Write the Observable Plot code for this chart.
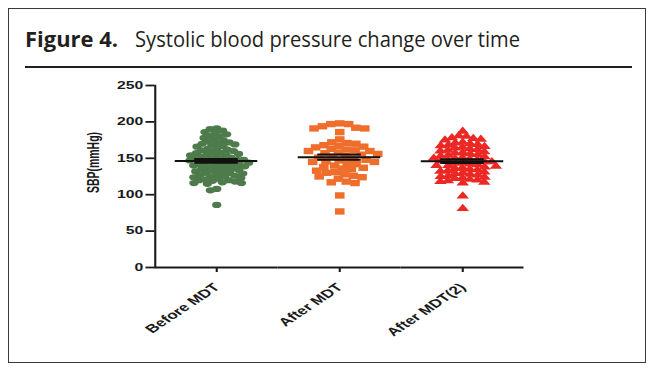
<!DOCTYPE html>
<html>
<head>
<meta charset="utf-8">
<script src="https://cdn.jsdelivr.net/npm/d3@7"></script>
<script src="https://cdn.jsdelivr.net/npm/@observablehq/plot@0.6"></script>
<style>
  html, body { margin: 0; padding: 0; background: #fff; }
  body { width: 657px; height: 369px; position: relative; overflow: hidden; }
  #box { position: absolute; left: 8px; top: 8px; width: 638px; height: 355px; box-sizing: border-box; border: 1.5px solid #3a3a3a; }
  #title { position: absolute; left: 25px; top: 25px; font-family: "Open Sans", "Noto Sans", sans-serif; font-size: 22px; line-height: 26px; color: #231f20; white-space: nowrap; }
  #title .t1 { font-weight: bold; display: inline-block; transform-origin: left center; }
  #title .t2 { display: inline-block; position: absolute; left: 110px; top: 0; transform-origin: left center; }
  #rule { position: absolute; left: 25px; top: 66px; width: 607px; height: 0; border-top: 2.5px solid #231f20; }
  #chart { position: absolute; left: 0; top: 70px; }
</style>
</head>
<body>
<div id="box"></div>
<div id="title"><span class="t1">Figure 4.</span><span class="t2">Systolic blood pressure change over time</span></div>
<div id="rule"></div>
<div id="chart"></div>
<script>
// ---- data ----
const groups = ["Before MDT", "After MDT", "After MDT(2)"];
const beforeMDT = [191,190,188,186,185,183,181,180,178,176,
  175,173,172,171,170,169,168,167,166,164,
  163,162,161,160,159,158,157,156,156,155,
  154,153,152,151,150,150,149,148,148,147,
  146,145,145,144,143,142,142,141,140,140,
  139,138,137,136,135,135,134,133,132,131,
  130,130,129,128,127,126,125,125,124,123,
  122,121,120,120,119,118,117,116,116,115,
  108,106,86];
const afterMDT = [198,197,197,194,192,191,191,186,176,172,171,170,
  168,167,166,165,163,162,161,160,160,158,157,156,155,
  153,152,151,150,148,147,146,145,145,143,142,140,
  138,137,136,135,133,131,130,128,126,125,124,122,
  118,117,116,99,77];
const afterMDT2 = [187,181,180,178,177,176,175,172,171,170,
  169,168,167,166,165,164,163,162,161,160,
  159,158,157,156,155,154,153,152,151,150,150,
  149,148,147,146,145,145,144,143,142,141,140,140,
  139,138,137,136,135,134,133,132,131,130,
  129,128,127,126,125,124,123,122,121,120,119,
  118,117,116,98,81];
const seriesValues = [beforeMDT, afterMDT, afterMDT2];
const colors = ["#4d7b4b", "#ef6e2c", "#ec2824"];
const symbols = ["circle", "square", "triangle"];
const radii = [3.1, 3.6, 3.1];
const pads = [-1.7, -1.2, -1.1];
const yTicks = [0, 50, 100, 150, 200, 250];
const yLabel = "SBP(mmHg)";

// ---- derived tables ----
const rowsByGroup = groups.map((g, i) => seriesValues[i].map(v => ({group: g, value: v})));
const stats = groups.map((g, i) => {
  const vals = seriesValues[i];
  const m = d3.mean(vals), sem = d3.deviation(vals) / Math.sqrt(vals.length);
  return {group: g, mean: m, lo: m - sem, hi: m + sem};
});

// ---- layout (the picture is horizontally stretched, like the reference) ----
const stretch = 1.5;
const finalW = 657, W = finalW / stretch, H = 285;
const axisFont = "'Liberation Sans', Arial, sans-serif";

const chart = Plot.plot({
  width: W,
  height: H,
  marginLeft: 153 / stretch,
  marginRight: (finalW - 525) / stretch,
  marginTop: 15,
  marginBottom: 88,
  style: {fontFamily: axisFont, fontSize: "11px", fontWeight: "bold", color: "#1a1a1a", background: "transparent", overflow: "visible"},
  fx: {domain: groups, padding: 0, axis: null, label: null},
  y: {domain: [0, 250], axis: null},
  marks: [
    Plot.ruleY([0], {stroke: "#1a1a1a", strokeWidth: 2}),
    Plot.frame({anchor: "left", facetAnchor: "left", stroke: "#1a1a1a", strokeWidth: 1.4}),
    Plot.axisY({ticks: yTicks, tickSize: 6, tickPadding: 2, label: null, stroke: "#1a1a1a", strokeWidth: 1.8, fontSize: 10.5}),
    Plot.axisFx({anchor: "bottom", tickSize: 5, tickPadding: 13, tickRotate: -45, label: null, stroke: "#1a1a1a", strokeWidth: 1.4, fontSize: 11.5}),
    Plot.text([yLabel], {text: d => d, frameAnchor: "left", facetAnchor: "left", textAnchor: "middle", lineAnchor: "middle", rotate: -90, dx: -41, dy: -14, fontSize: 10.5, fontWeight: "bold", fill: "#1a1a1a"}),
    ...rowsByGroup.map((rows, i) =>
      Plot.dot(rows, Plot.dodgeX({anchor: "middle", padding: pads[i]}, {fx: "group", y: "value", r: radii[i], symbol: symbols[i], fill: colors[i]}))
    ),
    Plot.ruleY(stats, {fx: "group", y: "mean", insetLeft: 13.5, insetRight: 13.5, stroke: "#111", strokeWidth: 2}),
    Plot.ruleY(stats, {fx: "group", y: "lo", insetLeft: 26.5, insetRight: 26.5, stroke: "#111", strokeWidth: 2}),
    Plot.ruleY(stats, {fx: "group", y: "hi", insetLeft: 26.5, insetRight: 26.5, stroke: "#111", strokeWidth: 2}),
    Plot.ruleX(stats, {fx: "group", y1: "lo", y2: "hi", stroke: "#111", strokeWidth: 1.2})
  ]
});
chart.setAttribute("width", finalW);
chart.setAttribute("preserveAspectRatio", "none");
chart.style.width = finalW + "px";
chart.style.height = H + "px";
chart.style.maxWidth = "none";
document.getElementById("chart").appendChild(chart);

// fit title pieces to the reference widths
const t1 = document.querySelector("#title .t1"), t2 = document.querySelector("#title .t2");
t1.style.transform = `scaleX(${93 / t1.getBoundingClientRect().width})`;
t2.style.transform = `scaleX(${385 / t2.getBoundingClientRect().width})`;
</script>
</body>
</html>
